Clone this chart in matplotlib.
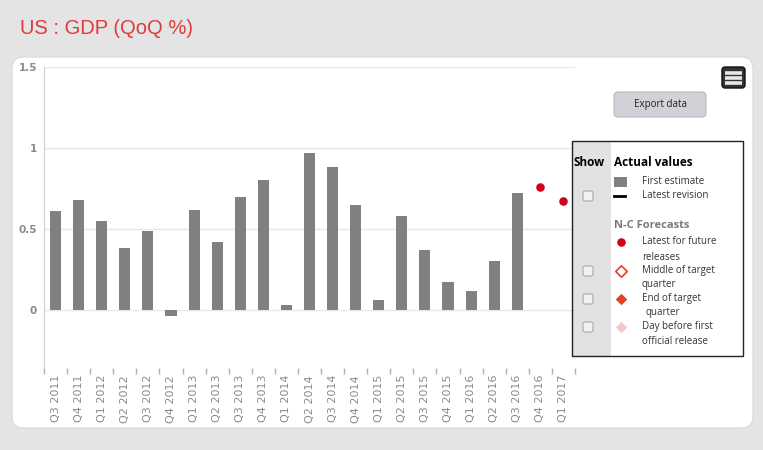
import matplotlib
matplotlib.use("Agg")
import matplotlib.pyplot as plt
from matplotlib.patches import FancyBboxPatch, Rectangle

# Quarterly GDP growth, first estimate (QoQ %)
quarters = ["Q3 2011", "Q4 2011", "Q1 2012", "Q2 2012", "Q3 2012", "Q4 2012",
            "Q1 2013", "Q2 2013", "Q3 2013", "Q4 2013", "Q1 2014", "Q2 2014",
            "Q3 2014", "Q4 2014", "Q1 2015", "Q2 2015", "Q3 2015", "Q4 2015",
            "Q1 2016", "Q2 2016", "Q3 2016", "Q4 2016", "Q1 2017"]
first_estimate = [0.61, 0.68, 0.55, 0.38, 0.49, -0.04, 0.62, 0.42, 0.70, 0.80,
                  0.03, 0.97, 0.88, 0.65, 0.06, 0.58, 0.37, 0.17, 0.12, 0.30,
                  0.72, None, None]
# N-C forecasts, latest for future releases
forecast_quarters = ["Q4 2016", "Q1 2017"]
forecast_values = [0.76, 0.67]

y_ticks = [0, 0.5, 1, 1.5]
y_tick_labels = ["0", "0.5", "1", "1.5"]

W, H = 763, 450
fig = plt.figure(figsize=(W / 100, H / 100), dpi=100)
fig.patch.set_facecolor("#e4e4e4")

# background layer (pixel coords)
bg = fig.add_axes([0, 0, 1, 1], zorder=0)
bg.set_xlim(0, W)
bg.set_ylim(H, 0)
bg.axis("off")
bg.add_patch(FancyBboxPatch((12, 57), 741, 371, boxstyle="round,pad=0,rounding_size=12",
                            facecolor="white", edgecolor="#d8d8d8", linewidth=0.8))
bg.text(20, 28, "US : GDP (QoQ %)", color="#e03a3a", fontsize=14.5,
        family="Liberation Sans", va="center", ha="left")

# main chart
ax = fig.add_axes([44 / W, 1 - 368 / H, 531 / W, 301 / H], zorder=1)
ax.set_facecolor("none")
x = list(range(len(quarters)))
bx = [i for i, v in enumerate(first_estimate) if v is not None]
bv = [v for v in first_estimate if v is not None]
ax.bar(bx, bv, width=0.48, color="#808080", zorder=3)
fx = [quarters.index(q) for q in forecast_quarters]
ax.scatter(fx, forecast_values, s=38, color="#d0021b", zorder=4, linewidths=0)

ax.set_xlim(-0.5, len(quarters) - 0.5)
ax.set_ylim(-0.358, 1.5)
ax.set_yticks(y_ticks)
ax.set_yticklabels(y_tick_labels, color="#8a8a8a", fontsize=7.5, fontweight="bold")
ax.yaxis.grid(True, color="#e8e8e8", linewidth=1, zorder=0)
ax.tick_params(axis="y", length=0, pad=5)
ax.set_xticks(x)
ax.set_xticklabels(quarters, rotation=90, color="#8a8a8a", fontsize=8)
ax.set_xticks([i + 0.5 for i in range(-1, len(quarters))], minor=True)
ax.tick_params(axis="x", which="major", length=0, pad=5)
ax.tick_params(axis="x", which="minor", length=4, color="#b0b0b0", width=1)
for s in ["top", "right", "bottom"]:
    ax.spines[s].set_visible(False)
ax.spines["left"].set_color("#d0d0d0")

# overlay (legend box, buttons)
ov = fig.add_axes([0, 0, 1, 1], zorder=2)
ov.set_xlim(0, W)
ov.set_ylim(H, 0)
ov.axis("off")
ov.patch.set_alpha(0)

ov.add_patch(Rectangle((572, 141), 171, 215, facecolor="white", edgecolor="none"))
ov.add_patch(Rectangle((572, 141), 39, 215, facecolor="#e2e2e2", edgecolor="none"))
ov.add_patch(Rectangle((572, 141), 171, 215, facecolor="none", edgecolor="#222222", linewidth=1))

lf = "Open Sans"
ov.text(574, 163, "Show", fontsize=8.5, fontweight="bold", va="center", family=lf)
ov.text(614, 163, "Actual values", fontsize=8.5, fontweight="bold", va="center", family=lf)
ov.add_patch(Rectangle((614, 177), 13, 10, facecolor="#808080", edgecolor="none"))
ov.text(642, 182, "First estimate", fontsize=7, va="center", family=lf, color="#333333")
ov.plot([614, 625], [196, 196], color="black", linewidth=2)
ov.text(642, 195, "Latest revision", fontsize=7, va="center", family=lf, color="#333333")
ov.text(614, 226, "N-C Forecasts", fontsize=8, fontweight="bold", va="center", family=lf, color="#7a7a7a")

ov.scatter([621], [242], s=38, color="#d0021b", linewidths=0)
ov.text(642, 242, "Latest for future", fontsize=7, va="center", family=lf, color="#333333")
ov.text(642, 257, "releases", fontsize=7, va="center", family=lf, color="#333333")
ov.scatter([621], [271], s=34, marker="D", facecolor="white", edgecolor="#e8401c", linewidths=1.2)
ov.text(642, 270, "Middle of target", fontsize=7, va="center", family=lf, color="#333333")
ov.text(642, 285, "quarter", fontsize=7, va="center", family=lf, color="#333333")
ov.scatter([621], [299], s=34, marker="D", color="#e8401c", linewidths=0)
ov.text(642, 298, "End of target", fontsize=7, va="center", family=lf, color="#333333")
ov.text(645, 313, "quarter", fontsize=7, va="center", family=lf, color="#333333")
ov.scatter([621], [327], s=34, marker="D", color="#f7c6cc", linewidths=0)
ov.text(642, 326, "Day before first", fontsize=7, va="center", family=lf, color="#333333")
ov.text(642, 342, "official release", fontsize=7, va="center", family=lf, color="#333333")

for cy in [196, 271, 299, 327]:
    ov.add_patch(FancyBboxPatch((583, cy - 5), 10, 10, boxstyle="round,pad=0,rounding_size=2",
                                facecolor="#f2f2f2", edgecolor="#a8a8a8", linewidth=0.8))

# export button and menu icon
ov.add_patch(FancyBboxPatch((614, 92), 92, 25, boxstyle="round,pad=0,rounding_size=4",
                            facecolor="#d0d2d8", edgecolor="#b8bac0", linewidth=0.8))
ov.text(660, 104.5, "Export data", fontsize=7, ha="center", va="center", family=lf, color="#222222")
ov.add_patch(FancyBboxPatch((722, 67), 23, 21, boxstyle="round,pad=0,rounding_size=3",
                            facecolor="#333333", edgecolor="#111111", linewidth=1))
for ly in [72.5, 77.5, 82.5]:
    ov.plot([725, 742], [ly, ly], color="#e8e8e8", linewidth=2.6, solid_capstyle="butt")

fig.savefig("out.png", dpi=100, facecolor=fig.get_facecolor())
